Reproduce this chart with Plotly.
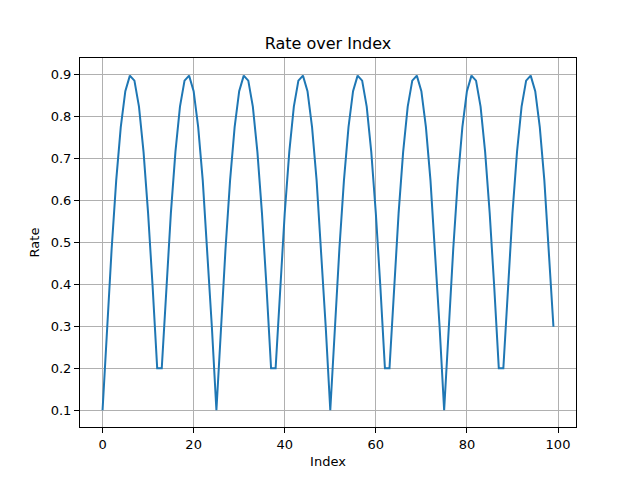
import plotly.graph_objects as go

index = list(range(100))
rate = [0.100, 0.299, 0.485, 0.648, 0.775, 0.861, 0.898, 0.886, 0.824, 0.716,
        0.570, 0.394, 0.200, 0.200, 0.394, 0.570, 0.716, 0.824, 0.886, 0.898,
        0.861, 0.775, 0.648, 0.485, 0.299,
        0.100, 0.299, 0.485, 0.648, 0.775, 0.861, 0.898, 0.886, 0.824, 0.716,
        0.570, 0.394, 0.200, 0.200, 0.394, 0.570, 0.716, 0.824, 0.886, 0.898,
        0.861, 0.775, 0.648, 0.485, 0.299,
        0.100, 0.299, 0.485, 0.648, 0.775, 0.861, 0.898, 0.886, 0.824, 0.716,
        0.570, 0.394, 0.200, 0.200, 0.394, 0.570, 0.716, 0.824, 0.886, 0.898,
        0.861, 0.775, 0.648, 0.485, 0.299,
        0.100, 0.299, 0.485, 0.648, 0.775, 0.861, 0.898, 0.886, 0.824, 0.716,
        0.570, 0.394, 0.200, 0.200, 0.394, 0.570, 0.716, 0.824, 0.886, 0.898,
        0.861, 0.775, 0.648, 0.485, 0.299]
x_ticks = [0, 20, 40, 60, 80, 100]
y_ticks = [0.1, 0.2, 0.3, 0.4, 0.5, 0.6, 0.7, 0.8, 0.9]

fig = go.Figure()
fig.add_trace(go.Scatter(x=index, y=rate, mode="lines",
                         line=dict(color="#1f77b4", width=2)))

font = "DejaVu Sans"
axis_common = dict(showgrid=True, gridcolor="#b0b0b0", gridwidth=1,
                   showline=True, linecolor="black", linewidth=1, mirror=True,
                   ticks="outside", ticklen=5, tickwidth=1, tickcolor="black",
                   zeroline=False, tickfont=dict(family=font, size=13, color="black"))

# page body has an 8px default margin; margins compensate for it
fig.update_layout(
    width=640, height=480,
    paper_bgcolor="white", plot_bgcolor="white",
    margin=dict(l=72, r=72, t=50, b=61),
    showlegend=False,
    title=dict(text="Rate over Index", x=0.5, xanchor="center",
               y=1 - 35 / 480, yref="container", yanchor="middle",
               font=dict(family=font, size=16, color="black")),
    xaxis=dict(range=[-4.95, 103.95], tickvals=x_ticks,
               ticktext=[str(v) for v in x_ticks],
               title=dict(text="Index", font=dict(family=font, size=13, color="black"), standoff=6),
               **axis_common),
    yaxis=dict(range=[0.06, 0.94], tickvals=y_ticks,
               ticktext=[f"{v:.1f}" for v in y_ticks],
               title=dict(text="Rate", font=dict(family=font, size=13, color="black"), standoff=8),
               **axis_common),
)

fig.write_html("out.html")
